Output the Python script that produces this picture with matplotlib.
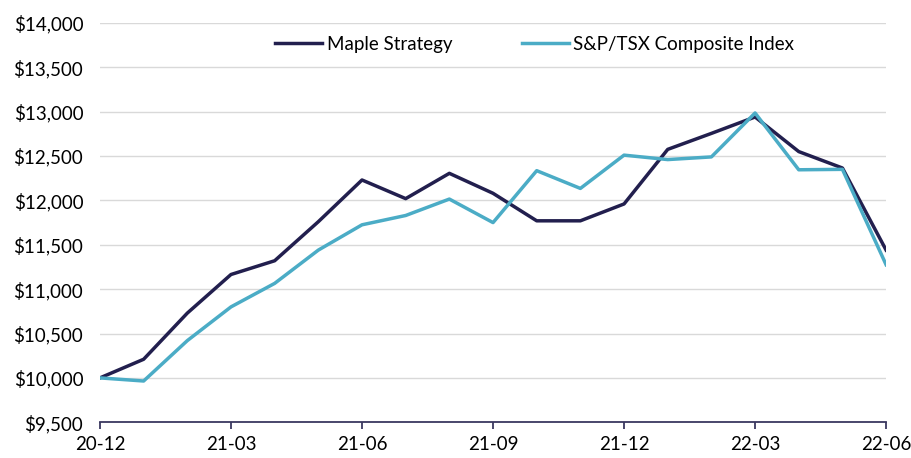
import numpy as np
import pandas as pd
import matplotlib.pyplot as plt
from matplotlib.ticker import FuncFormatter

# monthly growth of $10,000, Dec 2020 - Jun 2022
months = pd.date_range("2020-12-01", "2022-06-01", freq="MS")
maple = [10000, 10210, 10730, 11165, 11320, 11760, 12230, 12020, 12305, 12080,
         11770, 11770, 11960, 12575, 12755, 12940, 12550, 12365, 11440]
tsx = [10000, 9965, 10420, 10800, 11065, 11440, 11725, 11830, 12015, 11750,
       12335, 12135, 12510, 12460, 12490, 12985, 12345, 12350, 11275]

labels = [d.strftime("%y-%m") for d in months]

plt.rcParams["font.family"] = ["Lato", "DejaVu Sans"]

fig = plt.figure(figsize=(9.12, 4.58), dpi=100)
ax = fig.add_axes([0.1096, 0.078, 0.862, 0.872])

x = np.arange(len(months))
ax.plot(x, maple, color="#221f4e", linewidth=2.5, label="Maple Strategy")
ax.plot(x, tsx, color="#4bacc6", linewidth=2.5, label="S&P/TSX Composite Index")

ax.set_xlim(0, len(months) - 1)
ax.set_ylim(9500, 14000)
ax.set_yticks(np.arange(9500, 14001, 500))
ax.yaxis.set_major_formatter(FuncFormatter(lambda v, p: f"${v:,.0f}"))
ax.set_xticks(x[::3])
ax.set_xticklabels(labels[::3])

ax.grid(axis="y", color="#d9d9d9", linewidth=1)
ax.set_axisbelow(True)
for s in ["top", "right", "left"]:
    ax.spines[s].set_visible(False)
ax.spines["bottom"].set_color("#3a3860")
ax.spines["bottom"].set_linewidth(1.3)
ax.tick_params(axis="y", length=0, labelsize=13.5, pad=12)
ax.tick_params(axis="x", length=5, width=1.3, color="#3a3860", labelsize=13.5, pad=5)

ax.legend(loc="upper center", bbox_to_anchor=(0.553, 1.01), ncol=2, frameon=False,
          fontsize=13.5, handlelength=2.5, handletextpad=0.25, columnspacing=3.7)

fig.savefig("out.png", dpi=100)
